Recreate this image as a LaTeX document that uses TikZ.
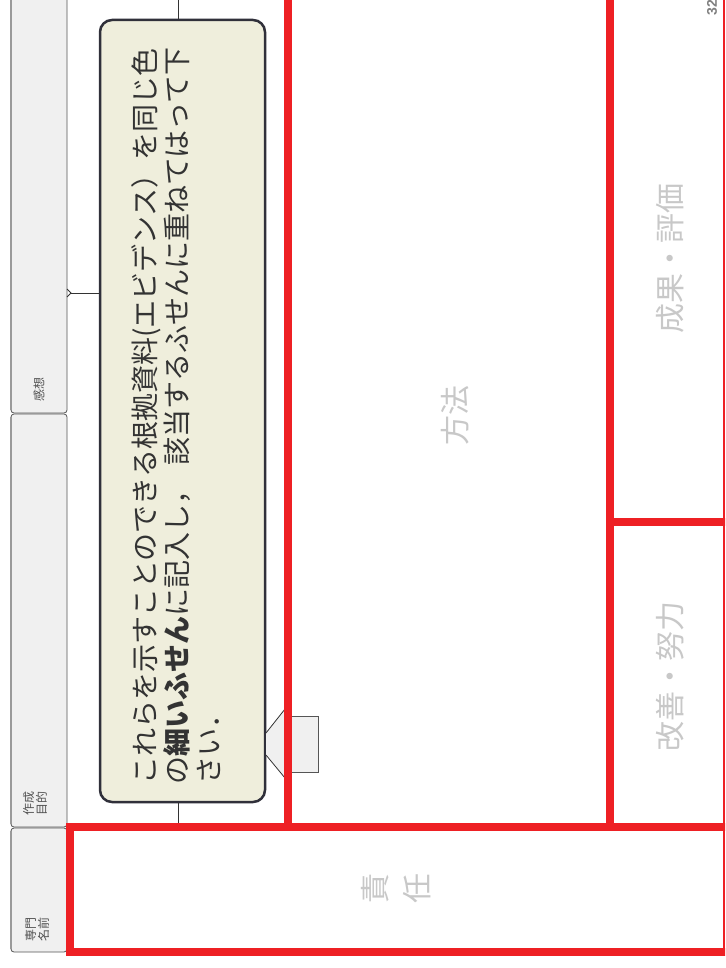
\documentclass[tikz,border=0pt]{standalone}
\usepackage{fontspec}
\setmainfont{Noto Sans CJK JP}
\newfontfamily\numfont{Liberation Sans}
\definecolor{redline}{HTML}{EE2024}
\definecolor{colgray}{HTML}{F0F0F0}
\definecolor{callfill}{HTML}{EFEEDC}
\definecolor{calledge}{HTML}{30303A}
\definecolor{labelgray}{HTML}{C8C8C8}
\definecolor{textdark}{HTML}{333333}
\definecolor{segedge}{HTML}{555555}
\definecolor{segleft}{HTML}{9A9A9A}
\tikzset{
  redthick/.style={draw=redline, line width=8pt},
  redthin/.style={draw=redline, line width=1.2pt},
  segbox/.style={fill=colgray, draw=segedge, line width=0.8pt, rounded corners=3pt},
  segleftline/.style={draw=segleft, line width=1.6pt},
  smalllabel/.style={rotate=90, inner sep=0pt, align=center, text=textdark!85,
    font=\fontsize{12}{13}\selectfont},
  biglabel/.style={rotate=90, inner sep=0pt, align=center, text=labelgray,
    font=\fontsize{30}{42}\selectfont},
  calloutbox/.style={fill=callfill, draw=calledge, line width=2.5pt,
    rounded corners=12pt, inner sep=0pt, minimum width=165pt, minimum height=782pt},
  thinline/.style={draw=textdark, line width=0.8pt},
  pointer/.style={fill=colgray, draw=none},
  smallbox/.style={fill=colgray, draw=segedge, line width=0.8pt, inner sep=0pt,
    minimum width=33pt, minimum height=56pt}
}
\begin{document}
\begin{tikzpicture}[x=1pt,y=-1pt]
\useasboundingbox (0,0) rectangle (725,968);
\clip (0,0) rectangle (725,968);
\fill[white] (0,0) rectangle (725,968);

% left column segments
\draw[segbox] (11,-10) rectangle (67,413);
\draw[segbox] (11,414) rectangle (67,827);
\draw[segbox] (11,828) rectangle (67,952);
\draw[segleftline] (11,-10) -- (11,410);
\draw[segleftline] (11,417) -- (11,824);
\draw[segleftline] (11,831) -- (11,949);

\node[smalllabel] (kanso) at (39,389) {感想};
\node[smalllabel] (mokuteki) at (35,803) {作成\\目的};
\node[smalllabel] (namae) at (37,929) {専門\\名前};

% callout
\node[calloutbox] (call) at (182.5,411) {};
\node[rotate=90, anchor=north west, inner sep=0pt, align=left, text=textdark,
  font=\fontsize{28}{32}\selectfont] (calltext) at (131,785)
  {これらを示すことのできる根拠資料(エビデンス）を同じ色\\
   の\textbf{細いふせん}に記入し，\kern0.4em 該当するふせんに重ねてはって下\\
   さい．};

% bracket lines behind the callout
\coordinate (t1) at (178,-5);
\draw[thinline] (t1) -- (t1 |- call.north);
\coordinate (b1) at (178,827);
\draw[thinline] (b1) -- (b1 |- call.south);
\coordinate (h1) at (71,293);
\draw[thinline] (67,289) -- (h1) -- (67,297);
\draw[thinline] (h1) -- (h1 -| call.west);

% pointer and small box
\node[smallbox] (sbox) at (301.5,744) {};
\coordinate (p1) at (266,733);
\coordinate (p2) at (285,709);
\coordinate (p3) at (285,778);
\coordinate (p4) at (266,755);
\fill[pointer] (p1) -- (p2) -- (p3) -- (p4) -- cycle;
\draw[thinline] (p1) -- (p2);
\draw[thinline] (p4) -- (p3);

% red frames
\draw[redthick] (288,-10) -- (288,827);
\draw[redthick] (610,-10) -- (610,827);
\draw[redthick] (610,522) -- (740,522);
\draw[redthick] (70,827) -- (740,827);
\draw[redthick] (70,952) -- (740,952);
\draw[redthick] (70,823) -- (70,956);
\draw[redthin] (724,-10) -- (724,952);

% labels
\node[biglabel] (hoho) at (455,415) {方法};
\node[biglabel] (seika) at (670,258) {成果・評価};
\node[biglabel] (kaizen) at (670,676) {改善・努力};
\node[biglabel] (sekinin) at (396,888) {責\\任};
\node[rotate=90, inner sep=0pt, text=gray, font=\numfont\bfseries\fontsize{14}{15}\selectfont] (pagenum) at (712,8) {32};
\end{tikzpicture}
\end{document}
